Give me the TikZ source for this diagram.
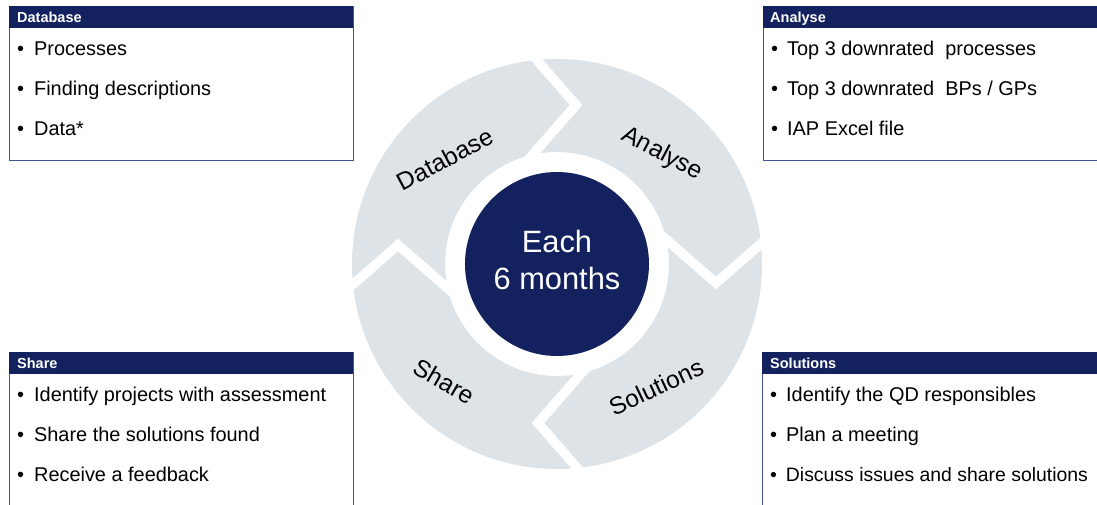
\documentclass[tikz,border=0pt]{standalone}
\usepackage{fontspec}
\setmainfont{Liberation Sans}
\definecolor{navy}{RGB}{19,34,95}
\definecolor{ringgray}{RGB}{222,227,232}
\definecolor{boxline}{RGB}{70,82,145}
\begin{document}
\begin{tikzpicture}[x=1pt,y=1pt,
  hdr/.style={anchor=base west, text=white, font=\fontsize{14.5}{16}\selectfont\bfseries, inner sep=0},
  item/.style={anchor=base west, font=\fontsize{19.9}{22}\selectfont, inner sep=0},
  ringlbl/.style={font=\fontsize{24.5}{28}\selectfont, inner sep=0},
  panel/.style={draw=boxline, line width=1.3, fill=white, anchor=north west, inner sep=0},
  bar/.style={fill=navy, anchor=north west, inner sep=0, minimum height=22},
  gap/.style={white, line width=9.5}]
\useasboundingbox (0,0) rectangle (1097,-505);

% ---- ring ----
\coordinate (c) at (557,-264);
\fill[ringgray, even odd rule] (c) circle[radius=205] (c) circle[radius=112];
\foreach \a in {90,0,-90,180}{
  \begin{scope}[shift={(c)}, rotate=\a-90]
    \draw[gap] (-36,222) -- (19,159) -- (-32.5,100);
  \end{scope}
}
\node[circle, fill=navy, minimum size=184, inner sep=0] (hub) at (c) {};
\node[text=white, align=center, font=\fontsize{30.8}{37}\selectfont, inner sep=0] (hubtxt) at (557,-259.5) {Each\\6 months};

\node[ringlbl, rotate=28] (l1) at (445,-159) {Database};
\node[ringlbl, rotate=-28] (l2) at (662,-154) {Analyse};
\node[ringlbl, rotate=25] (l3) at (656,-387) {Solutions};
\node[ringlbl, rotate=-30] (l4) at (444,-381) {Share};

% ---- Database box ----
\node[panel, minimum width=344, minimum height=154] (dbbox) at (9,-6) {};
\node[bar, minimum width=344] (dbbar) at (9,-6) {};
\node[hdr] (dbh) at (17,-22.5) {Database};
\node[item] (db1) at (17,-56) {•\hspace{10pt}Processes};
\node[item] (db2) at (17,-96) {•\hspace{10pt}Finding descriptions};
\node[item] (db3) at (17,-136) {•\hspace{10pt}Data*};

% ---- Analyse box ----
\node[panel, minimum width=345, minimum height=154] (anbox) at (763,-6) {};
\node[bar, minimum width=345] (anbar) at (763,-6) {};
\node[hdr] (anh) at (770,-22.5) {Analyse};
\node[item] (an1) at (771,-56) {•\hspace{9pt}Top 3 downrated\ \ processes};
\node[item] (an2) at (771,-96) {•\hspace{9pt}Top 3 downrated\ \ BPs / GPs};
\node[item] (an3) at (771,-136) {•\hspace{9pt}IAP Excel file};

% ---- Share box ----
\node[panel, minimum width=344, minimum height=170] (shbox) at (9,-352) {};
\node[bar, minimum width=344] (shbar) at (9,-352) {};
\node[hdr] (shh) at (17,-368) {Share};
\node[item] (sh1) at (17,-401) {•\hspace{10pt}Identify projects with assessment};
\node[item] (sh2) at (17,-441) {•\hspace{10pt}Share the solutions found};
\node[item] (sh3) at (17,-481) {•\hspace{10pt}Receive a feedback};

% ---- Solutions box ----
\node[panel, minimum width=346, minimum height=170] (sobox) at (762,-352) {};
\node[bar, minimum width=346] (sobar) at (762,-352) {};
\node[hdr] (soh) at (770,-368) {Solutions};
\node[item] (so1) at (770,-401) {•\hspace{9pt}Identify the QD responsibles};
\node[item] (so2) at (770,-441) {•\hspace{9pt}Plan a meeting};
\node[item, font=\fontsize{19.4}{22}\selectfont] (so3) at (770,-481) {•\hspace{9pt}Discuss issues and share solutions};
\end{tikzpicture}
\end{document}
